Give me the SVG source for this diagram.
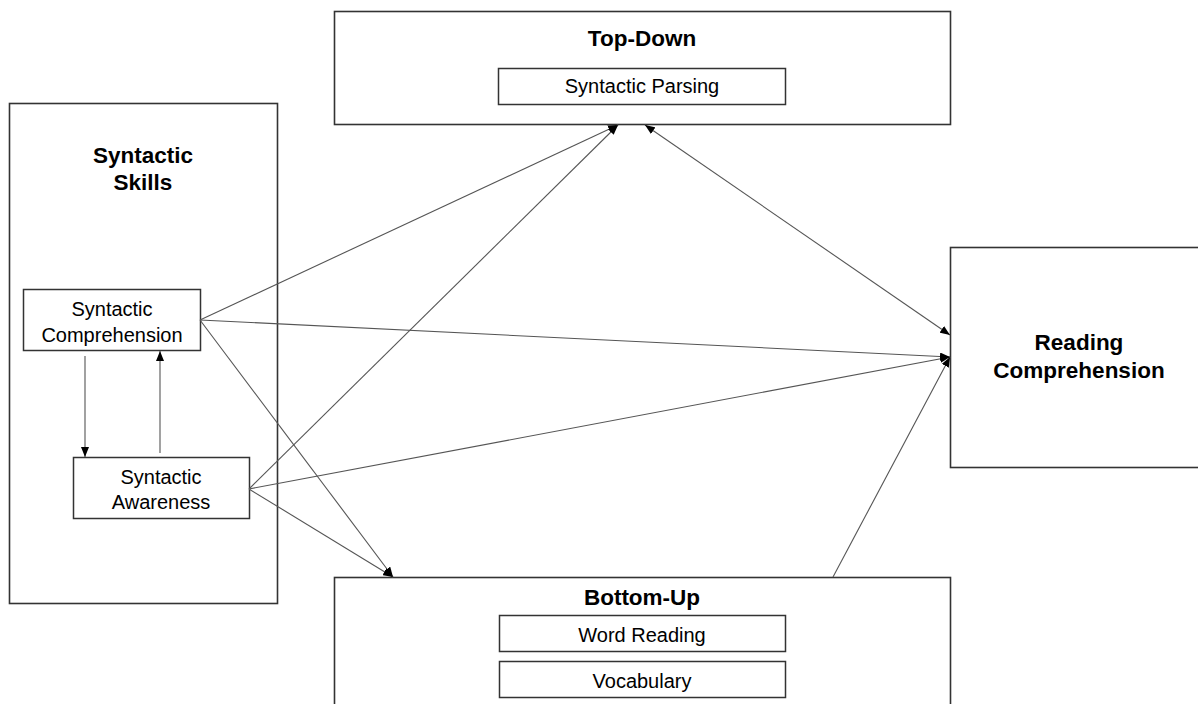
<svg xmlns="http://www.w3.org/2000/svg" width="1198" height="704" viewBox="0 0 1198 704">
  <style>
    .box { fill: #fff; stroke: #333; stroke-width: 1.6; }
    .inner { fill: #fff; stroke: #333; stroke-width: 1.5; }
    .title { font-family: "Liberation Sans", Arial, sans-serif; font-weight: bold; font-size: 22.5px; fill: #000; text-anchor: middle; }
    .label { font-family: "Liberation Sans", Arial, sans-serif; font-size: 20px; fill: #000; text-anchor: middle; }
    .edge { stroke: #555; stroke-width: 1.1; fill: none; marker-end: url(#arrow); }
  </style>
  <defs>
    <marker id="arrow" viewBox="0 0 10 8" refX="10" refY="4" markerWidth="10" markerHeight="8" markerUnits="userSpaceOnUse" orient="auto-start-reverse">
      <path d="M0,0 L10,4 L0,8 Z" fill="#000"/>
    </marker>
  </defs>
  <rect width="1198" height="704" fill="#fff"/>

  <g id="syntactic-skills">
    <rect class="box" x="9.5" y="103.5" width="268" height="500"/>
    <text class="title" x="143" y="163">Syntactic</text>
    <text class="title" x="143" y="190">Skills</text>
  </g>

  <g id="syntactic-comprehension">
    <rect class="inner" x="23.5" y="289.5" width="177" height="61"/>
    <text class="label" x="112" y="316">Syntactic</text>
    <text class="label" x="112" y="342">Comprehension</text>
  </g>

  <g id="syntactic-awareness">
    <rect class="inner" x="73.5" y="457.5" width="176" height="61"/>
    <text class="label" x="161" y="484">Syntactic</text>
    <text class="label" x="161" y="509">Awareness</text>
  </g>

  <g id="top-down">
    <rect class="box" x="334.5" y="11.5" width="616" height="113"/>
    <text class="title" x="642" y="46">Top-Down</text>
    <rect class="inner" x="498.5" y="68.5" width="287" height="36"/>
    <text class="label" x="642" y="93">Syntactic Parsing</text>
  </g>

  <g id="reading-comprehension">
    <rect class="box" x="950.5" y="247.5" width="260" height="220"/>
    <text class="title" x="1079" y="350">Reading</text>
    <text class="title" x="1079" y="378">Comprehension</text>
  </g>

  <g id="bottom-up">
    <rect class="box" x="334.5" y="577.5" width="616" height="140"/>
    <text class="title" x="642" y="605">Bottom-Up</text>
    <rect class="inner" x="499.5" y="615.5" width="286" height="36"/>
    <text class="label" x="642" y="642">Word Reading</text>
    <rect class="inner" x="499.5" y="661.5" width="286" height="36"/>
    <text class="label" x="642" y="688">Vocabulary</text>
  </g>

  <g id="connectors">
    <!-- within syntactic skills -->
    <line class="edge" x1="85" y1="356" x2="85" y2="457"/>
    <line class="edge" x1="160" y1="453" x2="160" y2="351"/>
    <!-- to top-down -->
    <line class="edge" x1="200" y1="320" x2="618" y2="125"/>
    <line class="edge" x1="249" y1="489" x2="618" y2="125"/>
    <!-- top-down and reading comprehension, both ways -->
    <line class="edge" x1="645" y1="125" x2="950" y2="335" marker-start="url(#arrow)"/>
    <!-- to reading comprehension -->
    <line class="edge" x1="200" y1="320" x2="950" y2="357"/>
    <line class="edge" x1="249" y1="489" x2="950" y2="357"/>
    <line class="edge" x1="833" y1="577" x2="950" y2="357"/>
    <!-- to bottom-up -->
    <line class="edge" x1="200" y1="320" x2="393" y2="577"/>
    <line class="edge" x1="249" y1="489" x2="393" y2="577"/>
  </g>
</svg>
